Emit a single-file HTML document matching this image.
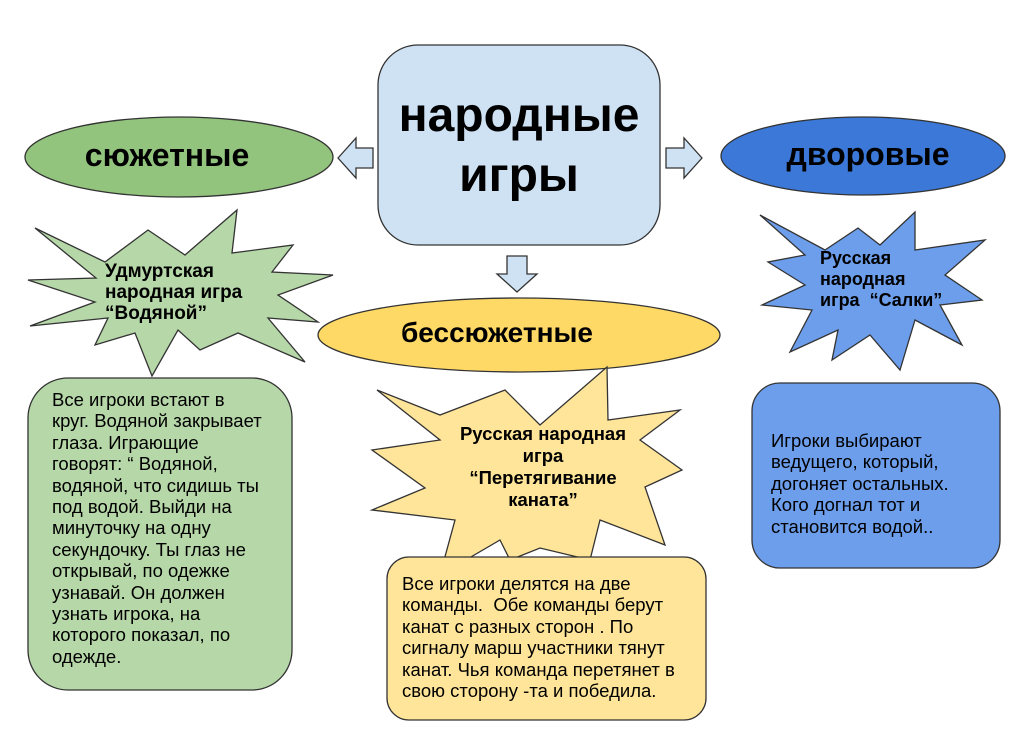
<!DOCTYPE html>
<html><head><meta charset="utf-8"><style>
body{margin:0;width:1022px;height:735px;background:#fff;position:relative;overflow:hidden;font-family:"Liberation Sans",sans-serif}
.t{position:absolute;color:#000;white-space:pre}
svg{position:absolute;left:0;top:0}
</style></head><body>
<svg width="1022" height="735">
<g stroke="#333" stroke-width="1.3">
<rect x="378" y="45" width="282" height="200" rx="40" fill="#cfe2f3"/>
<ellipse cx="179" cy="157" rx="154" ry="40" fill="#93c47d"/>
<ellipse cx="863" cy="156" rx="142" ry="39" fill="#3c78d8"/>
<polygon points="338,158 356,138 356,148 373,148 373,168 356,168 356,178" fill="#cfe2f3"/>
<polygon points="702,158 684,138 684,148 666,148 666,168 684,168 684,178" fill="#cfe2f3"/>
<polygon points="517,292 497,274 507,274 507,256 527,256 527,274 537,274" fill="#cfe2f3"/>
<polygon points="35,228 105,262 148,230 185,255 237,210 232,253 293,245 272,272 333,275 278,295 318,322 268,318 305,362 238,333 200,350 178,330 152,376 135,333 95,345 108,318 30,326 95,302 28,280 96,278" fill="#b6d7a8"/>
<ellipse cx="519" cy="335" rx="201" ry="37" fill="#ffd966"/>
<polygon points="377,390 440,415 505,390 540,425 607,367 608,420 680,410 640,440 682,470 645,487 665,545 600,520 590,560 540,548 510,560 500,540 440,575 455,520 372,510 425,488 372,450 440,440" fill="#ffe599"/>
<polygon points="760,215 825,250 858,228 880,245 915,212 915,250 985,240 945,275 982,300 940,305 962,345 915,320 900,370 870,335 832,360 838,330 790,352 812,310 762,305 805,285 768,262 805,255" fill="#6d9eeb"/>
<rect x="28" y="378" width="264" height="312" rx="40" fill="#b6d7a8"/>
<rect x="387" y="557" width="319" height="163" rx="22" fill="#ffe599"/>
<rect x="752" y="383" width="248" height="185" rx="28" fill="#6d9eeb"/>
</g>
</svg>
<div class="t" style="left:378px;width:282px;top:86px;text-align:center;font-weight:bold;font-size:48px;line-height:60px">народные
игры</div>
<div class="t" style="left:13px;width:308px;top:137px;text-align:center;font-weight:bold;font-size:32px">сюжетные</div>
<div class="t" style="left:726px;width:284px;top:136px;text-align:center;font-weight:bold;font-size:32px">дворовые</div>
<div class="t" style="left:296px;width:402px;top:317px;text-align:center;font-weight:bold;font-size:28px">бессюжетные</div>
<div class="t" style="left:105px;top:261px;font-weight:bold;font-size:19px;line-height:21px">Удмуртская
народная игра
“Водяной”</div>
<div class="t" style="left:438px;top:423px;width:210px;text-align:center;font-weight:bold;font-size:18.5px;line-height:22px">Русская народная
игра
“Перетягивание
каната”</div>
<div class="t" style="left:820px;top:248px;font-weight:bold;font-size:18px;line-height:21px">Русская
народная
игра  “Салки”</div>
<div class="t" style="left:52px;top:389px;font-size:18.5px;line-height:21.4px">Все игроки встают в
круг. Водяной закрывает
глаза. Играющие
говорят: “ Водяной,
водяной, что сидишь ты
под водой. Выйди на
минуточку на одну
секундочку. Ты глаз не
открывай, по одежке
узнавай. Он должен
узнать игрока, на
которого показал, по
одежде.</div>
<div class="t" style="left:402px;top:573px;font-size:18.5px;line-height:21.4px">Все игроки делятся на две
команды.  Обе команды берут
канат с разных сторон . По
сигналу марш участники тянут
канат. Чья команда перетянет в
свою сторону -та и победила.</div>
<div class="t" style="left:771px;top:430px;font-size:18.5px;line-height:21.4px">Игроки выбирают
ведущего, который,
догоняет остальных.
Кого догнал тот и
становится водой..</div>
</body></html>
